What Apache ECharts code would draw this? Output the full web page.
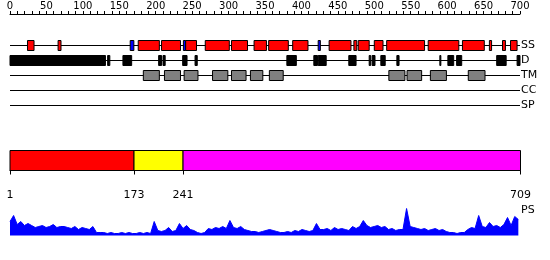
<!DOCTYPE html>
<html><head><meta charset="utf-8">
<script src="https://cdn.jsdelivr.net/npm/echarts@6/dist/echarts.min.js"></script>
<style>html,body{margin:0;padding:0;background:#fff}#c{width:550px;height:260px}</style>
</head><body><div id="c"></div>
<script>
// ---- data ----
const trackNames = ['SS', 'D', 'TM', 'CC', 'SP'];
const ssRed = [[24,33],[66,70],[176,205],[208,234],[241,256],[268,301],[304,326],[335,352],[355,382],[388,409],[438,468],[472,476],[478,493],[500,512],[517,569],[574,616],[621,651],[658,661],[676,680],[687,696]];
const ssBlue = [[165,170],[238,241],[423,426]];
const disorder = [[0,131],[134,137],[155,167],[204,208],[210,213],[237,243],[254,257],[380,393],[417,422],[423,434],[465,475],[493,495],[497,501],[509,515],[531,534],[590,591],[601,609],[613,620],[668,681],[696,700]];
const tmSegments = [[183,205],[212,234],[239,258],[278,299],[304,324],[330,347],[356,375],[520,542],[545,565],[577,599],[629,652]];
const ccSegments = [];
const spSegments = [];
const domainStarts = [1, 173, 241];
const domainEnds = [173, 241, 709];
const domainTicks = [1, 173, 241, 709];
const psStep = 5;
const psValues = [14,20,11,14,10,12,10,8,9,10,8,9,11,8,9,9,8,7,9,6,8,7,6,9,3,3,
  3,2,3,2,2,3,2,3,2,2,3,2,3,2,14,5,4,5,8,4,5,12,7,10,6,5,3,2,3,
  7,6,8,7,9,7,15,8,7,9,6,5,4,4,3,4,5,6,5,4,3,3,4,3,5,4,6,5,4,5,12,6,
  6,7,5,8,6,7,6,5,9,7,9,15,10,8,9,10,8,9,6,7,5,6,6,27,9,8,7,
  6,7,5,6,7,5,6,4,3,3,2,3,3,6,8,7,20,9,8,13,9,10,8,11,18,10,19,16];

// ---- chart ----
const FONT = 'DejaVu Sans';
const chart = echarts.init(document.getElementById('c'), null, {renderer: 'canvas'});

function boxSeries(list, track, fill) {
  return {
    type: 'custom', xAxisIndex: 0, yAxisIndex: 0, z: 3, silent: true, clip: false,
    encode: {x: [0, 1], y: 2},
    data: list.map(d => [d[0], d[1], track]),
    renderItem: (p, api) => {
      const a = api.coord([api.value(0), api.value(2)]);
      const b = api.coord([api.value(1), api.value(2)]);
      return {type: 'rect', shape: {x: a[0], y: a[1] - 5, width: Math.max(b[0] - a[0], 1), height: 10},
        style: {fill: fill, stroke: '#000', lineWidth: 1}};
    }
  };
}

const domainColors = ['#ff0000', '#ffff00', '#ff00ff'];

const option = {
  animation: false,
  textStyle: {fontFamily: FONT},
  grid: [
    {left: 10, right: 30, top: 38, height: 75, containLabel: false, outerBoundsMode: 'none'},
    {left: 10, right: 29.5, top: 150.5, height: 20, containLabel: false, outerBoundsMode: 'none'},
    {left: 10, right: 29.5, top: 205.5, height: 30, containLabel: false, outerBoundsMode: 'none'}
  ],
  xAxis: [
    {gridIndex: 0, type: 'value', min: 0, max: 700, interval: 50, position: 'top', offset: 24,
      axisLine: {show: true, lineStyle: {color: '#000', width: 1}},
      axisTick: {show: true, length: 3, lineStyle: {color: '#000'}},
      minorTick: {show: true, splitNumber: 5, length: 3, lineStyle: {color: '#000'}},
      axisLabel: {show: true, margin: 3, fontSize: 10, color: '#000', fontFamily: FONT},
      splitLine: {show: false}, minorSplitLine: {show: false}},
    {gridIndex: 1, type: 'value', min: 1, max: 709, position: 'bottom', offset: 10,
      axisLine: {show: true, lineStyle: {color: '#000', width: 1}},
      axisTick: {show: true, length: 4, customValues: domainTicks, lineStyle: {color: '#000'}},
      axisLabel: {show: true, margin: 9, fontSize: 11, color: '#000', fontFamily: FONT, customValues: domainTicks},
      splitLine: {show: false}},
    {gridIndex: 2, type: 'value', min: 1, max: 709, show: false, splitLine: {show: false}}
  ],
  yAxis: [
    {gridIndex: 0, type: 'category', data: trackNames, inverse: true, position: 'right',
      axisLine: {show: false}, axisTick: {show: false}, splitLine: {show: false},
      axisLabel: {margin: 1, fontSize: 11, color: '#000', fontFamily: FONT}},
    {gridIndex: 1, type: 'value', min: 0, max: 1, show: false, splitLine: {show: false}},
    {gridIndex: 2, type: 'value', min: 0, max: 30, show: false, splitLine: {show: false}}
  ],
  graphic: [
    {type: 'text', left: 521, top: 205, style: {text: 'PS', font: '11px "DejaVu Sans"', fill: '#000'}}
  ],
  series: [
    {type: 'custom', xAxisIndex: 0, yAxisIndex: 0, z: 1, silent: true, encode: {x: 0, y: 1},
      data: trackNames.map((n, i) => [0, i]),
      renderItem: (p, api) => {
        const y = api.coord([0, api.value(1)])[1];
        return {type: 'line', shape: {x1: p.coordSys.x, y1: y, x2: p.coordSys.x + p.coordSys.width, y2: y},
          style: {stroke: '#000', lineWidth: 1}};
      }},
    boxSeries(ssRed, 0, '#ff0000'),
    boxSeries(ssBlue, 0, '#0000ff'),
    boxSeries(disorder, 1, '#000000'),
    boxSeries(tmSegments, 2, '#808080'),
    boxSeries(ccSegments, 3, '#808080'),
    boxSeries(spSegments, 4, '#808080'),
    {type: 'custom', xAxisIndex: 1, yAxisIndex: 1, z: 2, silent: true, encode: {x: [0, 1]},
      data: domainStarts.map((s, i) => [s, domainEnds[i], i]),
      renderItem: (p, api) => {
        const a = api.coord([api.value(0), 1]);
        const b = api.coord([api.value(1), 0]);
        return {type: 'rect', shape: {x: a[0], y: a[1], width: b[0] - a[0], height: b[1] - a[1]},
          style: {fill: domainColors[api.value(2)], stroke: '#000', lineWidth: 1}};
      }},
    {type: 'line', xAxisIndex: 2, yAxisIndex: 2, symbol: 'none', silent: true,
      data: psValues.map((v, i) => [1 + psStep * i, v]),
      lineStyle: {color: '#0000ff', width: 1},
      areaStyle: {color: '#0000ff', opacity: 1}}
  ]
};
chart.setOption(option);
</script>
</body></html>
